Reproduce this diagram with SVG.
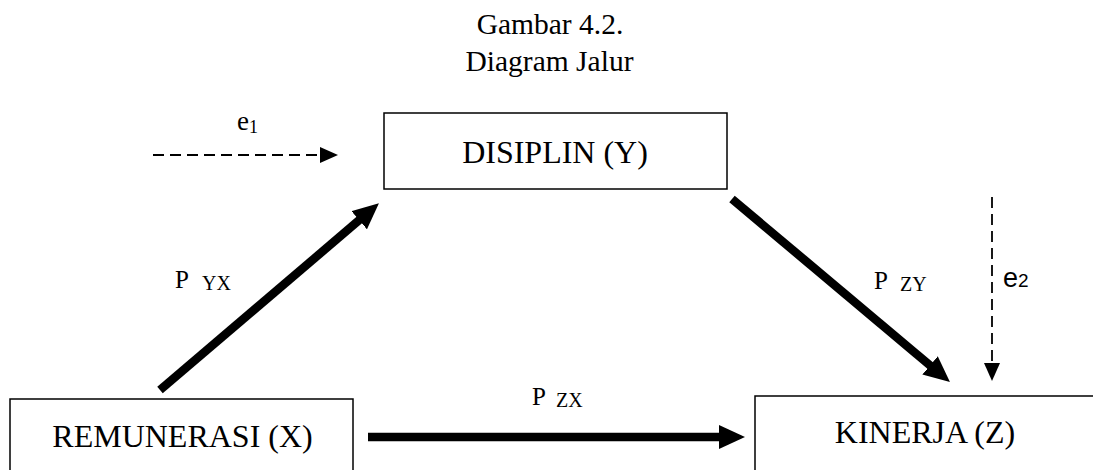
<svg xmlns="http://www.w3.org/2000/svg" width="1093" height="470" viewBox="0 0 1093 470">
<defs>
<style>
.t{font-family:"Liberation Serif","Times New Roman",serif;fill:#000}
.s{font-family:"Liberation Sans",Arial,sans-serif;fill:#000}
.box{fill:#fff;stroke:#000;stroke-width:1.5}
.thick{stroke:#000;stroke-width:8.5;fill:none}
.dash{stroke:#000;stroke-width:1.8;stroke-dasharray:11 6;fill:none}
</style>
<marker id="big" markerUnits="userSpaceOnUse" viewBox="0 0 26 24" markerWidth="26" markerHeight="24" refX="4" refY="12" orient="auto">
<path d="M0,0 L26,12 L0,24 z" fill="#000"/>
</marker>
<marker id="small" markerUnits="userSpaceOnUse" viewBox="0 0 18 16" markerWidth="18" markerHeight="16" refX="2" refY="8" orient="auto">
<path d="M0,0 L18,8 L0,16 z" fill="#000"/>
</marker>
</defs>
<rect width="1093" height="470" fill="#fff"/>
<g id="title">
<text class="t" x="550" y="34" font-size="29.5" text-anchor="middle">Gambar 4.2.</text>
<text class="t" x="549.5" y="71" font-size="29.5" text-anchor="middle">Diagram Jalur</text>
</g>
<g id="node-disiplin">
<rect class="box" x="384" y="113" width="343" height="76"/>
<text class="t" x="555" y="163" font-size="32" text-anchor="middle">DISIPLIN (Y)</text>
</g>
<g id="node-remunerasi">
<rect class="box" x="10" y="399" width="343" height="80"/>
<text class="t" x="182.5" y="447" font-size="32" text-anchor="middle">REMUNERASI (X)</text>
</g>
<g id="node-kinerja">
<rect class="box" x="755" y="396" width="350" height="80"/>
<text class="t" x="925" y="443" font-size="32" text-anchor="middle">KINERJA (Z)</text>
</g>
<g id="connectors">
<line class="thick" x1="160" y1="390" x2="362.2" y2="217.6" marker-end="url(#big)"/>
<line class="thick" x1="732" y1="199" x2="933.1" y2="367.9" marker-end="url(#big)"/>
<line class="thick" x1="368" y1="437" x2="723" y2="437" marker-end="url(#big)"/>
<line class="dash" x1="153" y1="155" x2="322" y2="155" marker-end="url(#small)"/>
<line class="dash" x1="992" y1="197" x2="992" y2="365" marker-end="url(#small)"/>
</g>
<g id="labels">
<text class="t" x="237" y="130" font-size="27">e<tspan font-size="18" dy="3">1</tspan></text>
<text class="s" x="1003" y="287" font-size="27">e<tspan font-size="19" dy="0">2</tspan></text>
<text class="t" x="175" y="288" font-size="25">P<tspan x="202" font-size="20" dy="2">YX</tspan></text>
<text class="t" x="874" y="289" font-size="25">P<tspan x="900" font-size="20" dy="2">ZY</tspan></text>
<text class="t" x="532" y="405" font-size="25">P<tspan x="556" font-size="20" dy="2">ZX</tspan></text>
</g>
</svg>
